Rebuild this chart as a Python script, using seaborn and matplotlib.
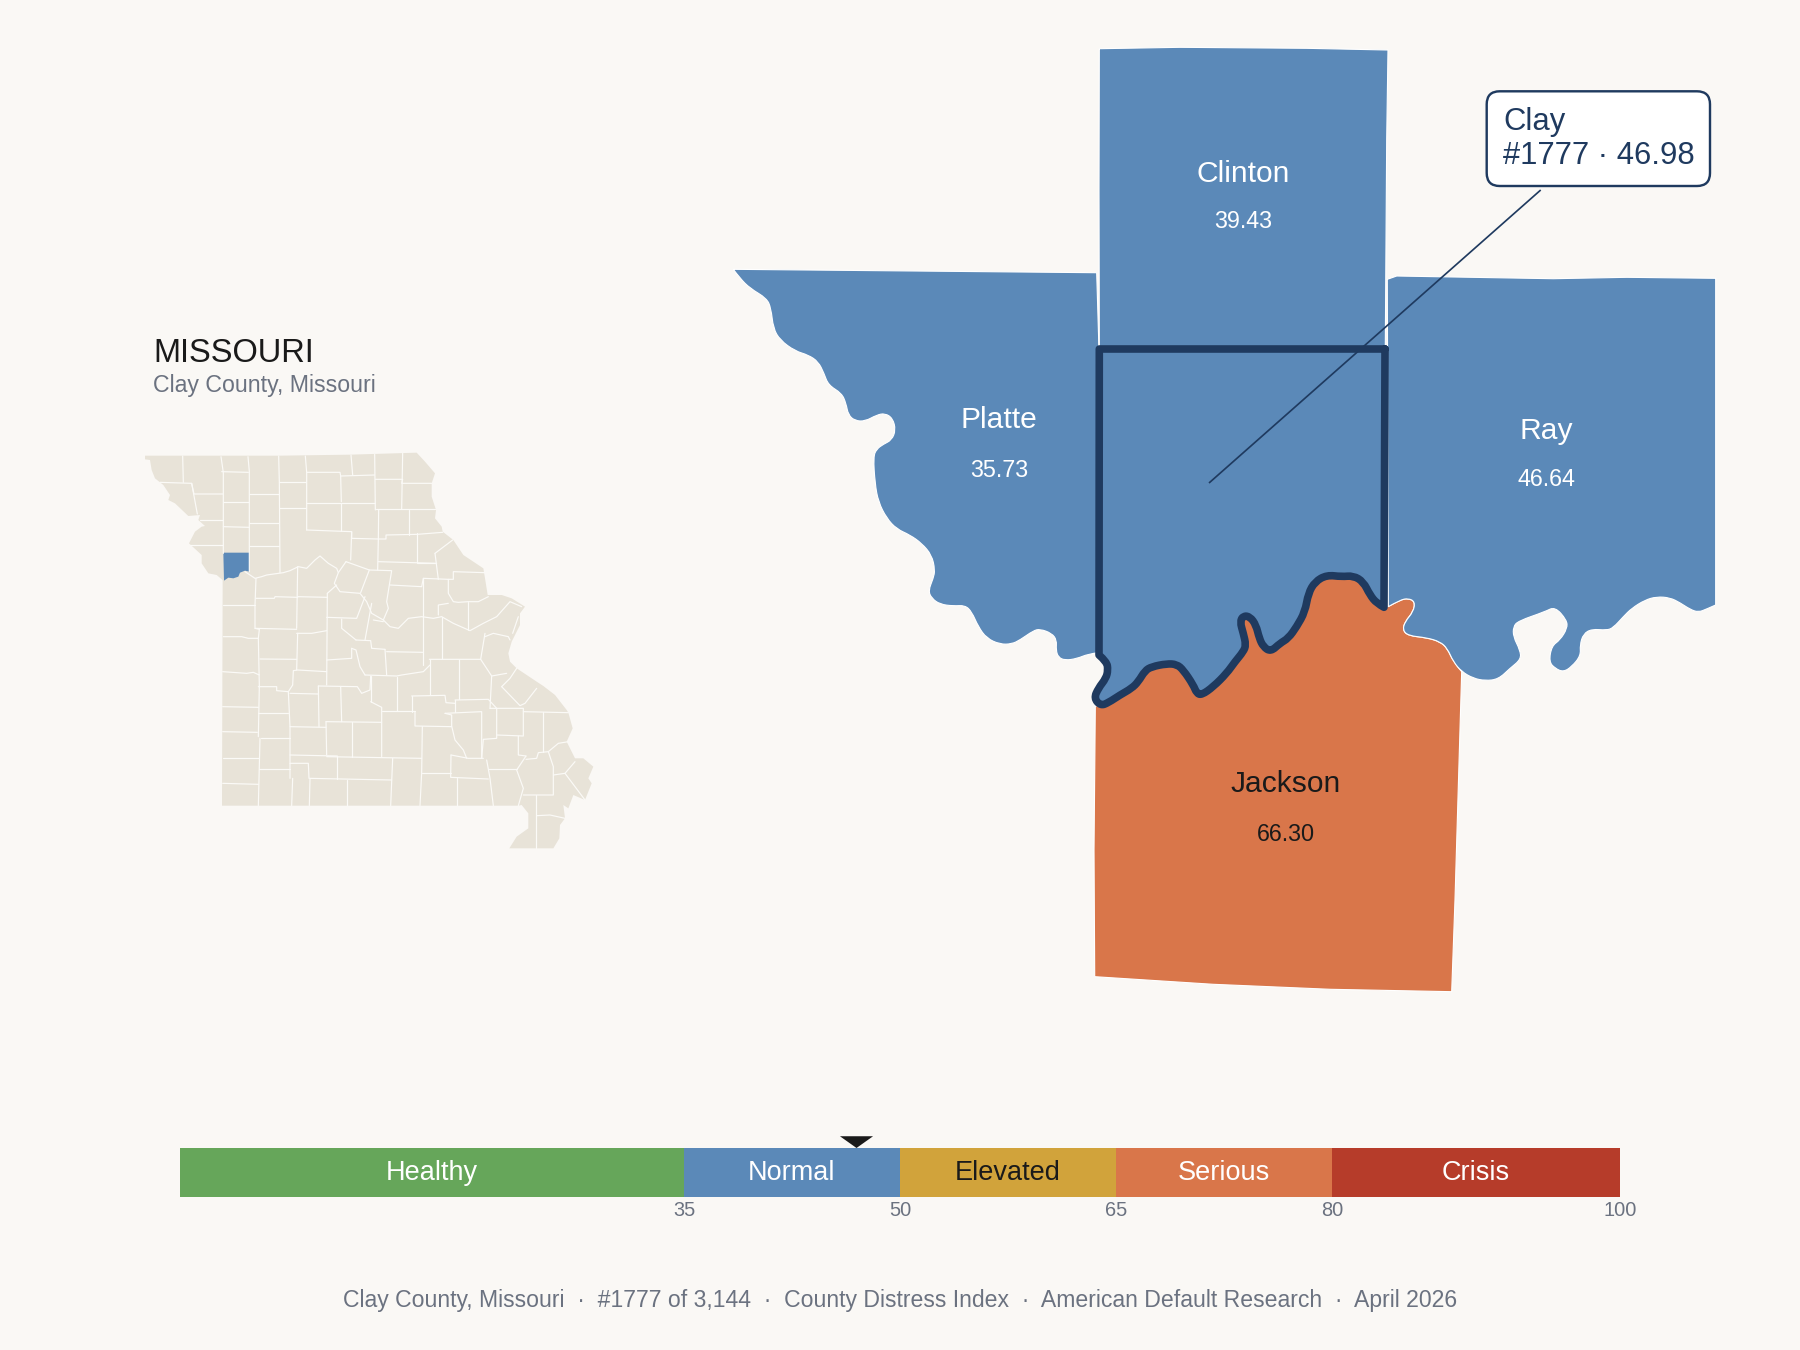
import math
import matplotlib
matplotlib.use("Agg")
import matplotlib.pyplot as plt
from matplotlib.patches import FancyBboxPatch, PathPatch
from matplotlib.path import Path
import seaborn as sns

# ---------- data ----------
BANDS = ["Healthy", "Normal", "Elevated", "Serious", "Crisis"]
BAND_STARTS = [0, 35, 50, 65, 80]
BAND_ENDS = [35, 50, 65, 80, 100]
BAND_COLORS = ["#66A65A", "#5B89B8", "#D1A33B", "#D9764A", "#B63C2A"]
BAND_TEXT = ["#FFFFFF", "#FFFFFF", "#1A1A1A", "#FFFFFF", "#FFFFFF"]
TICKS = [35, 50, 65, 80, 100]
SCORE = 46.98

COUNTIES = ["Clinton", "Platte", "Ray", "Jackson"]
COUNTY_VALUES = ["39.43", "35.73", "46.64", "66.30"]

PLATTE = [(733.3,269.3),(1096.7,272.7),(1099,350),(1098,652.7),(1088.3,654),(1076.7,658.7),(1065,660.3),
 (1058.3,657.3),(1056,650),(1056.7,640),(1051.7,633.3),(1040,629),(1033.3,630.7),(1020,640),(1011.7,644),
 (1000,644.3),(986.7,638.3),(978.3,626.7),(971.7,611.7),(965,605.3),(953.3,606),(940,604.3),(931.7,598.3),
 (928.3,590.7),(933.3,578.3),(935,570),(931.7,555),(921.7,543.3),(910,535),(896.7,529),(886.7,518.3),
 (878.3,501.7),(875,483.3),(873.3,456.7),(876.7,449),(883.3,444.3),(891.7,440),(895.7,430),(892.7,418.3),
 (885,413.3),(876.7,415),(865,421.3),(855,420.7),(848.3,415),(846,403.3),(841.7,393.3),(828.3,385),
 (824,373.3),(818.3,361.7),(808.3,355),(795,351),(780,340),(773.3,328.3),(771,308.3),(766.7,298.3),
 (750,288.3),(740,278.3)]

RIVER_CLAY = [(1099,655),(1106.7,661.7),(1108,670),(1106,678.3),(1098.3,688.3),(1094,698.3),(1100.7,705.7),
 (1108.3,702.7),(1120,695),(1131.7,688.3),(1138.3,681.7),(1145,670.7),(1151.7,666.7),(1166.7,663.7),
 (1176.7,664.3),(1183.3,670),(1193.3,685),(1196.7,693.3),(1201.7,695),(1213.3,686.7),(1226.7,673.3),
 (1235,661.7),(1243.3,651.7),(1246,645),(1243.3,633.3),(1240,621.7),(1243.3,615.7),(1250,616.7),
 (1256,625),(1259.3,638.3),(1263.3,646.7),(1270.7,651.7),(1280,643.3),(1288.3,638.3),(1296.7,626.7),
 (1305,611.7),(1308.3,593.3),(1315,581.7),(1326.7,575),(1341.7,576.7),(1353.3,575.7),(1363.3,581.7),
 (1370,595),(1376.7,603.3),(1384,607.3)]
CLAY_CORNERS = [(1385,349),(1099.3,349)]

JACKSON_RAY_EDGE = [(1388.3,606.7),(1400,600),(1408.3,598.3),(1415,601.7),(1413.3,611.7),(1405,621.7),
 (1402.7,630),(1408.3,635.7),(1426.7,637.7),(1440,641.7),(1447.3,648.3),(1453.3,661.7),(1461.7,671.7)]
JACKSON_REST = [(1455,900),(1451.7,991.7),(1330,989.3),(1213,984.3),(1094.7,976.7),(1094,850),(1095.3,706)]

RAY_NORTH = [(1387.3,279.3),(1396.7,276),(1553.3,278.7),(1626.7,277.3),(1715.7,278.3),(1715.7,605)]
RAY_RIVER = [(1706.7,609),(1698.3,612.3),(1690,609.3),(1680,602.7),(1670,597.7),(1656.7,596.7),(1645,600),
 (1631.7,608.3),(1623.3,616.7),(1613.3,627.7),(1606.7,630.3),(1591.7,629),(1583.3,634),(1580,645),
 (1580.7,655.7),(1571.7,666.7),(1563.3,672),(1555,668.3),(1549,661.7),(1551.7,646),(1560,640),(1567.3,628.3),
 (1566.7,620),(1555,606.7),(1545,611.7),(1518.3,621),(1513.3,626.7),(1513.3,636.7),(1520,650),(1521,659.3),
 (1510,668.3),(1498.3,679.3),(1485,680.7),(1473.3,678.3)]

CLINTON = [(1099.3,48.7),(1180,47.3),(1306.7,48.3),(1388,50),(1386.7,140),(1385.3,349),(1099.3,349),(1099,190)]

STATE = [(75,107),(480,107),(690,104),(890,98),(915,125),(945,160),(935,190),(935,230),(948,270),(945,295),
 (965,320),(968,335),(1000,360),(1030,405),(1090,445),(1095,475),(1103,525),(1145,525),(1175,535),(1215,560),
 (1200,580),(1200,615),(1175,665),(1165,700),(1170,725),(1190,745),(1250,785),(1270,798),(1305,825),(1340,870),
 (1345,878),(1358,925),(1340,965),(1365,1015),(1390,1015),(1420,1040),(1405,1075),(1415,1090),(1395,1140),
 (1360,1125),(1345,1165),(1330,1155),(1335,1195),(1320,1215),(1318,1255),(1300,1285),(1168,1285),(1190,1250),
 (1225,1225),(1225,1180),(1205,1155),(1195,1157),(306,1157),(308,480),(310,482),(290,465),(265,460),(245,430),
 (245,405),(207,370),(225,335),(245,320),(255,318),(235,300),(240,285),(205,288),(165,250),(145,240),(150,225),
 (130,195),(105,175),(95,150),(90,120),(75,118)]
STATE_CLAY = [(310,398),(388,398),(388,455),(375,452),(360,458),(355,470),(340,475),(325,473),(312,482)]
STATE_LINES = [
 [(188,108),(190,187)],[(303,110),(310,158),(310,400)],[(384,110),(388,155),(388,455)],[(476,108),(478,187),(480,458)],
 [(556,108),(560,157),(560,330)],[(693,105),(698,165)],[(764,103),(766,270)],[(848,100),(845,268)],
 [(305,155),(385,157)],[(560,157),(660,157),(662,168),(764,165)],[(766,178),(848,178),(845,190),(935,190)],
 [(120,187),(215,190),(222,222),(308,222)],[(215,190),(232,282)],[(388,222),(478,222)],[(478,187),(558,187)],
 [(310,245),(388,245)],[(478,265),(558,265)],[(388,310),(478,310)],[(558,248),(662,248),(662,332)],
 [(662,168),(664,245)],[(664,248),(766,248)],[(768,268),(945,268)],[(776,270),(775,357)],[(868,270),(868,345)],
 [(560,330),(695,335),(695,355),(775,357)],[(695,335),(692,420)],[(775,357),(798,357),(798,345),(892,343),(968,337)],
 [(892,340),(892,428)],[(945,400),(998,360)],[(945,400),(955,478)],[(890,430),(945,430)],[(775,357),(773,450)],
 [(775,425),(950,430)],[(240,300),(310,300)],[(310,320),(388,322)],[(388,378),(478,378)],[(210,375),(310,375)],
 [(375,455),(405,475),(425,470),(440,465),(490,458),(510,452),(535,440),(560,445),(585,420),(600,408),(625,430),(650,445),(655,458),(643,490),(660,515),(720,520),(740,545),(755,580),(790,600),(810,620),(835,625),(865,595),(905,590),(940,595),(965,590),(1000,610),(1050,632),(1090,610),(1130,590),(1170,545),(1205,560)],
 [(408,475),(405,555),(405,625),(418,628)],[(310,555),(405,555)],[(408,535),(463,535),(465,530),(533,532)],
 [(533,440),(530,625)],[(405,625),(530,628)],[(533,530),(622,532)],[(622,520),(650,495)],[(622,520),(620,795)],
 [(678,425),(748,450),(722,518)],[(678,425),(655,458)],[(748,450),(815,452),(808,495),(800,545),(805,565),(790,600)],
 [(810,495),(905,500),(910,475)],[(910,475),(985,478),(985,520),(1000,545),(1015,547),(1045,545)],
 [(985,478),(1000,478),(1000,455),(1095,458)],[(908,475),(908,735)],[(985,550),(955,555),(955,585)],
 [(1045,545),(1045,630)],[(1045,545),(1075,545),(1105,530)],[(620,592),(710,595),(735,530)],
 [(665,597),(665,625),(708,660)],[(755,550),(735,660)],[(708,660),(752,662),(755,685),(795,688)],[(760,600),(790,605)],
 [(795,688),(800,765)],[(800,695),(908,697)],[(965,590),(965,718)],[(928,718),(1082,718),(1095,640)],
 [(1095,650),(1120,640),(1165,650),(1170,660)],[(1082,718),(1115,768),(1160,760)],[(1115,768),(1110,865)],
 [(1145,800),(1200,857),(1215,850),(1250,805)],[(1145,800),(1170,775),(1190,745)],[(1018,718),(1018,838)],
 [(930,718),(930,825)],[(875,828),(975,826),(978,848),(1005,850)],[(875,828),(875,875)],
 [(1005,840),(1105,838),(1130,865)],[(1005,840),(1005,875)],[(975,880),(1085,875),(1085,1015)],
 [(975,880),(995,885),(995,918),(1005,960),(1030,990),(1040,1015)],[(885,875),(885,918),(995,920)],[(785,873),(885,873)],
 [(752,845),(785,862),(785,1010)],[(752,768),(752,845)],[(830,770),(830,873)],
 [(735,765),(830,768),(845,765),(910,755),(930,735)],[(695,685),(708,690),(720,740),(735,765)],[(695,685),(695,715),(620,720)],
 [(595,798),(712,800),(725,820),(750,810),(752,768)],[(662,800),(665,905)],[(595,798),(597,920)],[(510,820),(595,822)],
 [(518,795),(520,752),(533,750),(620,755)],[(533,640),(530,750)],[(530,640),(575,640),(620,632)],[(420,717),(530,718)],
 [(418,628),(415,655),(418,798)],[(310,650),(365,650),(385,655),(415,655)],[(308,755),(380,760),(400,757),(418,765)],
 [(415,800),(470,800),(470,812),(505,815),(518,795)],[(418,798),(415,950)],[(308,860),(415,862)],[(415,880),(505,880)],
 [(505,815),(510,920),(510,1075)],[(308,935),(412,937)],[(422,955),(510,955)],[(420,955),(415,1157)],[(308,1015),(417,1015)],
 [(418,1047),(510,1047)],[(308,1090),(415,1093)],[(510,920),(618,922)],[(618,905),(620,1005)],[(618,905),(785,907)],
 [(697,905),(697,1012)],[(510,1005),(652,1008)],[(652,1008),(652,1078)],[(510,1030),(565,1030),(567,1075),(815,1080)],
 [(620,1010),(905,1015)],[(818,1015),(812,1157)],[(680,1080),(680,1157)],[(570,1077),(568,1157)],[(518,1075),(515,1157)],
 [(907,920),(905,1058),(900,1157)],[(905,1058),(992,1058)],[(993,1005),(992,1072),(1105,1077)],[(993,1005),(1045,1015),(1090,1015)],
 [(1012,1075),(1012,1157)],[(1100,1020),(1110,1075),(1120,1157)],[(1105,1048),(1190,1048)],[(1090,958),(1130,955),(1130,865)],
 [(1110,865),(1210,865),(1210,948),(1130,945)],[(1210,875),(1345,878)],[(1268,875),(1268,995)],[(1195,948),(1195,1005),(1218,1008)],
 [(1090,958),(1085,1015)],[(1218,1008),(1190,1050),(1210,1105),(1195,1157)],
 [(1218,1018),(1250,1015),(1255,998),(1285,995),(1300,1040),(1300,1125),(1210,1125)],[(1285,995),(1315,970),(1345,965)],
 [(1300,1065),(1335,1060),(1395,1140)],[(1335,1060),(1365,1025)],[(1248,1125),(1248,1285)],[(1250,1187),(1290,1185),(1335,1195)],
 [(1178,640),(1195,590)],
]

# ---------- style ----------
BG = "#FAF8F5"
BLUE = "#5B89B8"
ORANGE = "#D9764A"
NAVY = "#1F3A5F"
INK = "#1A1A1A"
GRAY = "#6B7280"
BEIGE = "#E8E3D8"
sns.set_theme(style="white")
plt.rcParams["font.family"] = ["Liberation Sans", "DejaVu Sans"]
W, H, DPI = 1800, 1350, 150
PT = 72 / DPI

fig = plt.figure(figsize=(W / DPI, H / DPI), dpi=DPI, facecolor=BG)


def axes_px(x0, y0, x1, y1):
    ax = fig.add_axes([x0 / W, 1 - y1 / H, (x1 - x0) / W, (y1 - y0) / H])
    ax.patch.set_alpha(0)
    return ax


def smooth_closed(pts, long_edge=45):
    """Closed path: vertices beside a long straight edge stay sharp, the rest are quadratic controls."""
    n = len(pts)
    def seg(i, j):
        return math.hypot(pts[i][0] - pts[j][0], pts[i][1] - pts[j][1])
    corner = [seg(i, (i - 1) % n) > long_edge or seg(i, (i + 1) % n) > long_edge for i in range(n)]
    first = corner.index(True)
    order = [(first + k) % n for k in range(1, n + 1)]
    verts, codes = [pts[first]], [Path.MOVETO]
    for i in order:
        if corner[i]:
            verts.append(pts[i]); codes.append(Path.LINETO)
        else:
            nxt = (i + 1) % n
            end = pts[nxt] if corner[nxt] else ((pts[i][0] + pts[nxt][0]) / 2, (pts[i][1] + pts[nxt][1]) / 2)
            verts += [pts[i], end]; codes += [Path.CURVE3, Path.CURVE3]
    return Path(verts, codes)


def shape(ax, pts, color, edge="white", lw=0.55, **kw):
    ax.add_patch(PathPatch(smooth_closed(pts), facecolor=color, edgecolor=edge, linewidth=lw, **kw))


# ---------- main map ----------
main = axes_px(0, 0, W, H)
shape(main, RIVER_CLAY[6:] + JACKSON_RAY_EDGE + JACKSON_REST, ORANGE)
shape(main, PLATTE, BLUE)
shape(main, CLINTON, BLUE)
shape(main, RAY_NORTH + RAY_RIVER + JACKSON_RAY_EDGE[::-1], BLUE)
clay = CLAY_CORNERS + RIVER_CLAY
shape(main, clay, BLUE, edge=NAVY, lw=7.6 * PT, joinstyle="round", capstyle="round")

LABEL_POS = [(1242.7, 181.5, 228.2), (999.3, 428.5, 476.8), (1546, 438.8, 485.6), (1285.7, 792.3, 840.6)]
LABEL_COL = ["#FFFFFF", "#FFFFFF", "#FFFFFF", INK]
for name, val, (x, y1, y2), c in zip(COUNTIES, COUNTY_VALUES, LABEL_POS, LABEL_COL):
    main.text(x, y1, name, ha="center", va="baseline", color=c, fontsize=30 * PT)
    main.text(x, y2, val, ha="center", va="baseline", color=c, fontsize=23.4 * PT)

# call-out
main.plot([1209, 1540.7], [483, 190], color=NAVY, linewidth=1.7 * PT, solid_capstyle="butt")
main.add_patch(FancyBboxPatch((1486.7, 91.3), 223.3, 94.7, boxstyle="round,pad=0,rounding_size=13",
                              facecolor="white", edgecolor=NAVY, linewidth=2.4 * PT))
main.text(1503, 130.3, "Clay", ha="left", va="baseline", color=NAVY, fontsize=31 * PT)
main.text(1503, 164.3, "#1777 · 46.98", ha="left", va="baseline", color=NAVY, fontsize=31 * PT)

# headings and footer
main.text(153, 361.7, "MISSOURI", ha="left", va="baseline", color=INK, fontsize=32.6 * PT)
main.text(153, 391.7, "Clay County, Missouri", ha="left", va="baseline", color=GRAY, fontsize=23.1 * PT)
main.text(900, 1307, "Clay County, Missouri  ·  #1777 of 3,144  ·  County Distress Index  ·  American Default Research  ·  April 2026",
          ha="center", va="baseline", color=GRAY, fontsize=22.95 * PT)
main.set_xlim(0, W)
main.set_ylim(H, 0)
main.set_axis_off()

# ---------- state locator ----------
loc = axes_px(120, 420, 620, 870)
xs, ys = zip(*STATE)
loc.fill(xs, ys, facecolor=BEIGE, edgecolor="none", linewidth=0)
for seg_pts in STATE_LINES:
    xs, ys = zip(*seg_pts)
    loc.plot(xs, ys, color="#FBFAF7", linewidth=1.2 * PT, solid_joinstyle="round")
xs, ys = zip(*STATE_CLAY)
loc.fill(xs, ys, facecolor=BLUE, edgecolor="none", linewidth=0)
loc.set_xlim(0, 1500)
loc.set_ylim(1350, 0)
loc.set_axis_off()

# ---------- scale bar ----------
bar = axes_px(180, 1148, 1620, 1197)
for end, c in zip(BAND_ENDS[::-1], BAND_COLORS[::-1]):
    sns.barplot(x=[end], y=["scale"], color=c, width=1, saturation=1, orient="h", linewidth=0, edgecolor="none", ax=bar)
bar.set_xlim(0, 100)
bar.set_ylim(0.5, -0.5)
bar.set_xlabel("")
bar.set_ylabel("")
bar.set_yticks([])
bar.set_xticks(TICKS)
bar.set_xticklabels([str(t) for t in TICKS])
bar.tick_params(axis="x", length=0, pad=1.8, labelsize=20 * PT, labelcolor=GRAY)
for s in bar.spines.values():
    s.set_visible(False)
for name, a, b, c in zip(BANDS, BAND_STARTS, BAND_ENDS, BAND_TEXT):
    bar.text((a + b) / 2, 0.0, name, ha="center", va="center", color=c, fontsize=27.2 * PT)
bar.fill([SCORE - 1.15, SCORE + 1.15, SCORE], [1.24, 1.24, 1.0], color=INK, lw=0,
         transform=bar.get_xaxis_transform(), clip_on=False)

fig.savefig("out.png", dpi=DPI, facecolor=BG)
